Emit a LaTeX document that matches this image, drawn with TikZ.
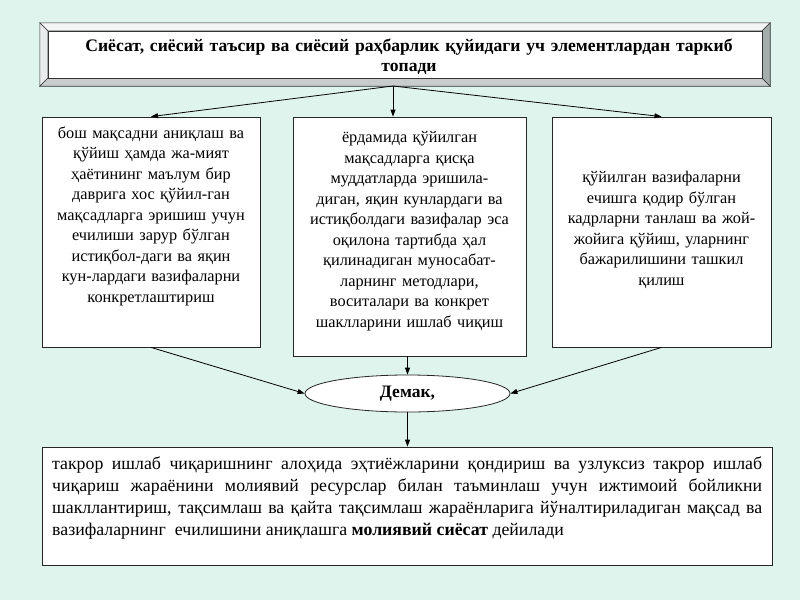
\documentclass[tikz,border=0pt]{standalone}
\usepackage{fontspec}
\setmainfont{Liberation Serif}
\usetikzlibrary{arrows.meta,shapes.geometric,calc}
\definecolor{bg}{RGB}{224,244,238}
\definecolor{bevtop}{RGB}{244,246,246}
\definecolor{bevleft}{RGB}{232,236,236}
\definecolor{bevbot}{RGB}{200,204,204}
\definecolor{bevright}{RGB}{164,172,172}
\tikzset{
  boxframe/.style={draw=black!85, fill=white, line width=0.8pt, inner sep=0pt},
  boxtext/.style={font=\fontsize{16.3}{20.5}\selectfont, align=center, inner sep=0pt},
  conn/.style={line width=0.8pt, -{Triangle[length=7pt,width=5pt]}},
}
\begin{document}
\begin{tikzpicture}[x=1pt,y=-1pt]
\fill[bg] (0,0) rectangle (800,600);
\useasboundingbox (0,0) rectangle (800,600);

% title with bevel
\node[minimum width=730pt, minimum height=63pt, inner sep=0pt] (T) at (405,54.5) {};
\coordinate (oTL) at (T.north west);
\coordinate (oTR) at (T.north east);
\coordinate (oBL) at (T.south west);
\coordinate (oBR) at (T.south east);
\coordinate (iTL) at ($(oTL)+(8,8)$);
\coordinate (iTR) at ($(oTR)+(-8,8)$);
\coordinate (iBL) at ($(oBL)+(8,-8)$);
\coordinate (iBR) at ($(oBR)+(-8,-8)$);
\begin{scope}[draw=black!80, line width=0.6pt]
\filldraw[fill=bevtop] (oTL) -- (oTR) -- (iTR) -- (iTL) -- cycle;
\filldraw[fill=bevleft] (oTL) -- (iTL) -- (iBL) -- (oBL) -- cycle;
\filldraw[fill=bevbot] (oBL) -- (iBL) -- (iBR) -- (oBR) -- cycle;
\filldraw[fill=bevright] (oTR) -- (oBR) -- (iBR) -- (iTR) -- cycle;
\filldraw[fill=white] (iTL) rectangle (iBR);
\end{scope}
\node[font=\bfseries\fontsize{17.6}{20}\selectfont, text width=700pt, align=center, inner sep=0pt] (Tt) at (409,57)
  {Сиёсат, сиёсий таъсир ва сиёсий раҳбарлик қуйидаги уч элементлардан таркиб\\ топади};
\coordinate (ta) at (393,86);

% three boxes
\node[boxframe, minimum width=218pt, minimum height=230pt] (L) at (151,232) {};
\node[boxtext, text width=212pt] (Lt) at (151,216)
  {бош мақсадни аниқлаш ва\\ қўйиш ҳамда жа-мият\\ ҳаётининг маълум бир\\ даврига хос қўйил-ган\\ мақсадларга эришиш учун\\ ечилиши зарур бўлган\\ истиқбол-даги ва яқин\\ кун-лардаги вазифаларни\\ конкретлаштириш};

\node[boxframe, minimum width=233pt, minimum height=239pt] (M) at (409.5,236.5) {};
\node[boxtext, text width=228pt] (Mt) at (409.5,231)
  {ёрдамида қўйилган\\ мақсадларга қисқа\\ муддатларда эришила-\\ диган, яқин кунлардаги ва\\ истиқболдаги вазифалар эса\\ оқилона тартибда ҳал\\ қилинадиган муносабат-\\ ларнинг методлари,\\ воситалари ва конкрет\\ шаклларини ишлаб чиқиш};

\node[boxframe, minimum width=219pt, minimum height=230pt] (R) at (661.5,232) {};
\node[boxtext, text width=214pt] (Rt) at (661.5,230)
  {қўйилган вазифаларни\\ ечишга қодир бўлган\\ кадрларни танлаш ва жой-\\ жойига қўйиш, уларнинг\\ бажарилишини ташкил\\ қилиш};

% ellipse
\node[ellipse, draw=black!85, fill=white, line width=0.8pt, minimum width=205pt, minimum height=37pt, inner sep=0pt,
      font=\bfseries\fontsize{17.5}{20}\selectfont] (E) at (407.5,393.5) {Демак,};

% bottom box
\node[boxframe, minimum width=730pt, minimum height=118pt] (B) at (407,506) {};
\node[font=\fontsize{17.8}{22}\selectfont, text width=710pt, align=justify, inner sep=0pt, anchor=north west] (Bt) at (52,457)
  {такрор ишлаб чиқаришнинг алоҳида эҳтиёжларини қондириш ва узлуксиз такрор ишлаб чиқариш жараёнини молиявий ресурслар билан таъминлаш учун ижтимоий бойликни шакллантириш, тақсимлаш ва қайта тақсимлаш жараёнларига йўналтириладиган мақсад ва вазифаларнинг~ ечилишини аниқлашга \textbf{молиявий сиёсат} дейилади};

% connectors
\draw[conn] (ta) -- (L.north);
\draw[conn] (ta) -- (ta |- M.north);
\draw[conn] (ta) -- (R.north);
\draw[conn] (L.south) -- (E.west);
\draw[conn] (E.north |- M.south) -- (E.north);
\draw[conn] (R.south) -- (E.east);
\draw[conn] (E.south) -- (E.south |- B.north);
\end{tikzpicture}
\end{document}
